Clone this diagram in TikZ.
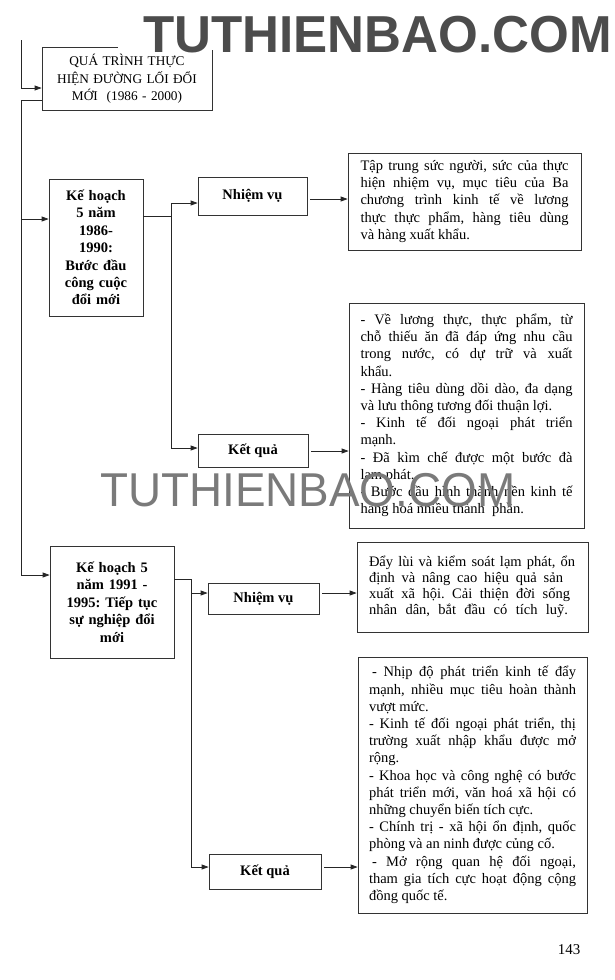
\documentclass[tikz,border=0pt]{standalone}
\usepackage{fontspec}
\setmainfont{Liberation Serif}
\newfontfamily\wmfont{Liberation Sans}
\usetikzlibrary{arrows.meta}
\newcommand\W[2]{\makebox[#1][s]{\spaceskip=0pt\xspaceskip=0pt\relax #2}}
\newcommand\Ja[1]{\W{208pt}{#1}}
\newcommand\Jb[1]{\W{212pt}{#1}}
\newcommand\Jc[1]{\W{207pt}{#1}}
\begin{document}
\frenchspacing
\begin{tikzpicture}[x=1pt,y=-1pt,
  ln/.style={draw=black!85, line width=0.75pt},
  arr/.style={ln, -{Triangle[length=7pt,width=5pt]}},
  bx/.style={draw=black!80, line width=0.75pt, inner sep=0pt},
  hd/.style={bx, align=center, font=\fontsize{14.5}{17.4}\selectfont\bfseries},
  tb/.style={bx, align=justify, font=\fontsize{14.5}{17.2}\selectfont},
  wmA/.style={anchor=base west, inner sep=0pt, text=black!70, font=\wmfont\bfseries\fontsize{52}{52}\selectfont},
  wmB/.style={anchor=base west, inner sep=0pt, text=black!52, font=\wmfont\fontsize{47.5}{47.5}\selectfont}
]
\useasboundingbox (0,0) rectangle (615,980);

% boxes
\node[bx, align=center, font=\fontsize{13.3}{17.7}\selectfont, minimum width=170pt, minimum height=63pt, text width=165pt] (title) at (127,79) {QUÁ TRÌNH THỰC\\HIỆN ĐƯỜNG LỐI ĐỔI\\MỚI\ \ (1986 - 2000)};

\node[hd, minimum width=94pt, minimum height=137pt, text width=90pt] (K1) at (96,247.5) {Kế hoạch\\5 năm\\1986-\\1990:\\Bước đầu\\công cuộc\\đổi mới};

\node[hd, minimum width=109pt, minimum height=38pt] (NV1) at (252.5,196) {Nhiệm vụ};

\node[tb, minimum width=233pt, minimum height=97pt, text width=208pt] (T1) at (464.5,201.5) {\Ja{Tập trung sức người, sức của thực}\newline\Ja{hiện nhiệm vụ, mục tiêu của Ba}\newline\Ja{chương trình kinh tế về lương}\newline\Ja{thực thực phẩm, hàng tiêu dùng}\newline và hàng xuất khẩu.};

\node[hd, minimum width=110pt, minimum height=33pt] (KQ1) at (253,450.5) {Kết quả};

\node[tb, minimum width=235pt, minimum height=225pt, text width=212pt] (T2) at (466.5,415.5) {\Jb{- Về lương thực, thực phẩm, từ}\newline\Jb{chỗ thiếu ăn đã đáp ứng nhu cầu}\newline\Jb{trong nước, có dự trữ và xuất}\newline khẩu.\newline\Jb{- Hàng tiêu dùng dồi dào, đa dạng}\newline và lưu thông tương đối thuận lợi.\newline\Jb{- Kinh tế đối ngoại phát triển}\newline mạnh.\newline\Jb{- Đã kìm chế được một bước đà}\newline lạm phát.\newline\Jb{- Bước đầu hình thành nền kinh tế}\newline hàng hoá nhiều thành\ \ phần.};

\node[hd, minimum width=124pt, minimum height=112pt, text width=118pt] (K2) at (112,602) {Kế hoạch 5\\năm 1991 -\\1995: Tiếp tục\\sự nghiệp đổi\\mới};

\node[hd, minimum width=111pt, minimum height=31pt] (NV2) at (263.5,598.5) {Nhiệm vụ};

\node[bx, align=justify, font=\fontsize{14.5}{15.8}\selectfont, minimum width=231pt, minimum height=90pt, text width=207pt] (T3) at (472.5,587) {\W{206pt}{Đẩy lùi và kiểm soát lạm phát, ổn}\newline\W{194pt}{định và nâng cao hiệu quả sản}\newline\W{201pt}{xuất xã hội. Cải thiện đời sống}\newline\W{199pt}{nhân dân, bắt đầu có tích luỹ.}};

\node[hd, minimum width=112pt, minimum height=35pt] (KQ2) at (265,871.5) {Kết quả};

\node[tb, minimum width=229pt, minimum height=256pt, text width=207pt] (T4) at (472.5,785) {\Jc{\hspace{3pt}- Nhịp độ phát triển kinh tế đẩy}\newline\Jc{mạnh, nhiều mục tiêu hoàn thành}\newline vượt mức.\newline\Jc{- Kinh tế đối ngoại phát triển, thị}\newline\Jc{trường xuất nhập khẩu được mở}\newline rộng.\newline\Jc{- Khoa học và công nghệ có bước}\newline\Jc{phát triển mới, văn hoá xã hội có}\newline những chuyển biến tích cực.\newline\Jc{- Chính trị - xã hội ổn định, quốc}\newline phòng và an ninh được củng cố.\newline\Jc{\hspace{3pt}- Mở rộng quan hệ đối ngoại,}\newline\Jc{tham gia tích cực hoạt động cộng}\newline đồng quốc tế.};

\node[font=\fontsize{15}{15}\selectfont, inner sep=0pt] (pg) at (569,950) {143};

% helper coordinates
\coordinate (c0) at (21,40);
\coordinate (h88) at (0,88);
\coordinate (tr) at (21,100);
\coordinate (h219) at (0,219);
\coordinate (h575) at (0,575);
\coordinate (b1) at (171,216);
\coordinate (h203) at (0,203);
\coordinate (h448) at (0,448);
\coordinate (h199) at (0,199);
\coordinate (h451) at (0,451);
\coordinate (b2) at (191,579);
\coordinate (h593) at (0,593);
\coordinate (h867) at (0,867);

% connectors
\draw[arr] (c0) |- (title.west |- h88);
\draw[arr] (title.west |- tr) -- (tr) |- (K2.west |- h575);
\draw[arr] (tr |- h219) -- (K1.west |- h219);
\draw[ln] (K1.east |- b1) -- (b1);
\draw[arr] (b1) |- (NV1.west |- h203);
\draw[arr] (b1) |- (KQ1.west |- h448);
\draw[arr, shorten <=3pt] (NV1.east |- h199) -- (T1.west |- h199);
\draw[arr, shorten <=3pt] (KQ1.east |- h451) -- (T2.west |- h451);
\draw[ln] (K2.east |- b2) -- (b2);
\draw[arr] (b2) |- (NV2.west |- h593);
\draw[arr] (b2) |- (KQ2.west |- h867);
\draw[arr, shorten <=3pt] (NV2.east |- h593) -- (T3.west |- h593);
\draw[arr, shorten <=3pt] (KQ2.east |- h867) -- (T4.west |- h867);

% watermarks
\fill[white] (118,10) rectangle (615,50);
\node[wmA] (wm1) at (143,52) {\scalebox{0.983}[1]{TUTHIENBAO.COM}};
\node[wmB] (wm2) at (100,506) {\scalebox{0.965}[1]{TUTHIENBAO.COM}};
\end{tikzpicture}
\end{document}
